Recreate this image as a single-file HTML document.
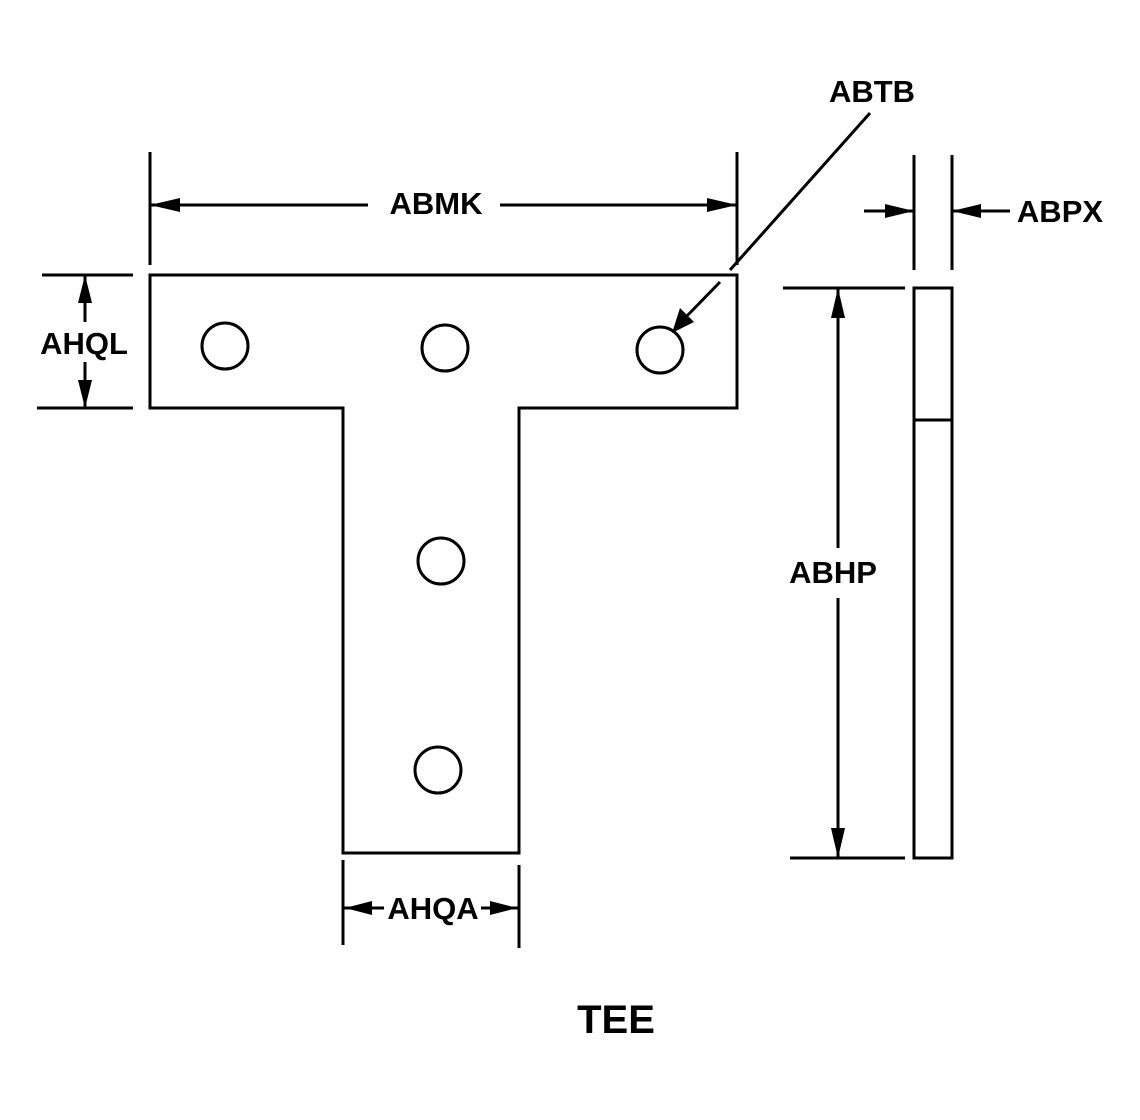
<!DOCTYPE html>
<html><head><style>html,body{margin:0;padding:0;background:#fff}svg{display:block}</style></head>
<body>
<svg width="1140" height="1120" viewBox="0 0 1140 1120" xmlns="http://www.w3.org/2000/svg">
<g fill="none" stroke="#000" stroke-width="3">
<path d="M150 275 H737 V408 H519 V853 H343 V408 H150 Z"/>
<circle cx="225" cy="346" r="23"/>
<circle cx="445" cy="348" r="23"/>
<circle cx="660" cy="350" r="23"/>
<circle cx="441" cy="561" r="23"/>
<circle cx="438" cy="770" r="23"/>
<line x1="150" y1="152" x2="150" y2="265"/>
<line x1="737" y1="152" x2="737" y2="265"/>
<line x1="150" y1="205" x2="368" y2="205"/>
<line x1="500" y1="205" x2="737" y2="205"/>
<line x1="870" y1="113" x2="730" y2="270"/>
<line x1="720" y1="282" x2="684" y2="319"/>
<line x1="42" y1="275" x2="133" y2="275"/>
<line x1="37" y1="408" x2="133" y2="408"/>
<line x1="85" y1="275" x2="85" y2="322"/>
<line x1="85" y1="362" x2="85" y2="408"/>
<line x1="343" y1="860" x2="343" y2="945"/>
<line x1="519" y1="865" x2="519" y2="948"/>
<line x1="343" y1="908" x2="384" y2="908"/>
<line x1="481" y1="908" x2="519" y2="908"/>
<rect x="914" y="288" width="38" height="570"/>
<line x1="914" y1="420" x2="952" y2="420"/>
<line x1="914" y1="155" x2="914" y2="270"/>
<line x1="952" y1="155" x2="952" y2="270"/>
<line x1="864" y1="211" x2="914" y2="211"/>
<line x1="952" y1="211" x2="1010" y2="211"/>
<line x1="783" y1="288" x2="905" y2="288"/>
<line x1="790" y1="858" x2="905" y2="858"/>
<line x1="838" y1="288" x2="838" y2="548"/>
<line x1="838" y1="598" x2="838" y2="858"/>
</g>
<g fill="#000">
<polygon points="150,205 180,198 180,212"/>
<polygon points="737,205 707,198 707,212"/>
<polygon points="672,333 680,308 694,322"/>
<polygon points="85,275 78,303 92,303"/>
<polygon points="85,408 78,380 92,380"/>
<polygon points="345,908 372,901 372,915"/>
<polygon points="517,908 490,901 490,915"/>
<polygon points="914,211 885,204 885,218"/>
<polygon points="952,211 981,204 981,218"/>
<polygon points="838,288 831,318 845,318"/>
<polygon points="838,858 831,828 845,828"/>
</g>
<g font-family="Liberation Sans, sans-serif" font-weight="bold" font-size="31" text-anchor="middle" fill="#000">
<text x="872" y="102">ABTB</text>
<text x="436" y="214">ABMK</text>
<text x="1060" y="222">ABPX</text>
<text x="84" y="354">AHQL</text>
<text x="433" y="919">AHQA</text>
<text x="833" y="583">ABHP</text>
<text x="616" y="1033" font-size="40">TEE</text>
</g>
</svg>
</body></html>
